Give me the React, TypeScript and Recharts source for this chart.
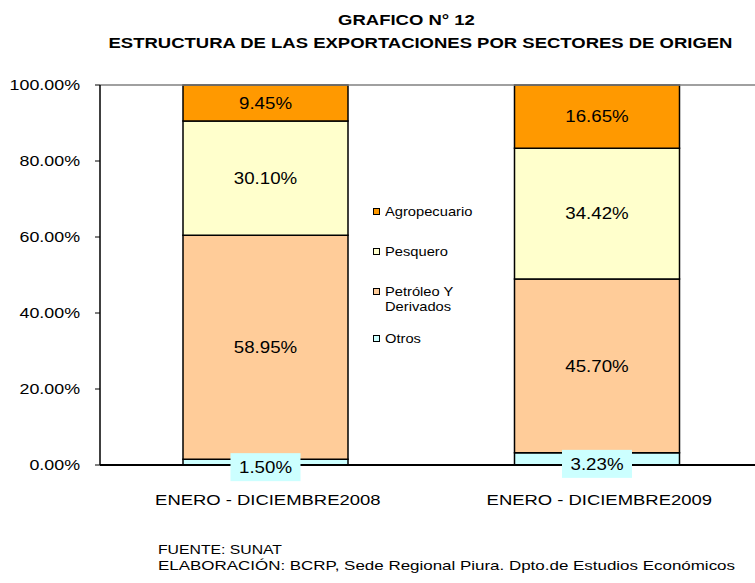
import React from "react";
import {
  BarChart,
  Bar,
  XAxis,
  YAxis,
  Legend,
  LabelList,
  ReferenceLine,
} from "recharts";

const periods = ["ENERO - DICIEMBRE2008", "ENERO - DICIEMBRE2009"];
const otros = [1.5, 3.23];
const petroleo = [58.95, 45.7];
const pesquero = [30.1, 34.42];
const agropecuario = [9.45, 16.65];
const yTicks = [0, 20, 40, 60, 80, 100];

const series = [
  { key: "otros", name: "Otros", color: "#CCFFFF", dy: 5 },
  { key: "petroleo", name: "Petróleo Y Derivados", color: "#FFCC99", dy: 0 },
  { key: "pesquero", name: "Pesquero", color: "#FFFFCC", dy: 0 },
  { key: "agro", name: "Agropecuario", color: "#FF9900", dy: 0 },
];

const data = periods.map((p, i) => ({
  period: p,
  otros: otros[i],
  petroleo: petroleo[i],
  pesquero: pesquero[i],
  agro: agropecuario[i],
}));

const FONT = "'Liberation Sans', Arial, sans-serif";

// the source picture is stretched sideways, so text gets a horizontal scale
function YTick(props: any) {
  const { x, y, payload } = props;
  return (
    <text
      transform={`translate(${x},${y}) scale(1.19,1)`}
      textAnchor="end"
      dominantBaseline="central"
      fontSize={15}
      fontFamily={FONT}
      fill="#000"
    >
      {Number(payload.value).toFixed(2) + "%"}
    </text>
  );
}

function XTick(props: any) {
  const { x, y, payload } = props;
  return (
    <text
      transform={`translate(${x + 2},${y + 8}) scale(1.23,1)`}
      textAnchor="middle"
      dominantBaseline="central"
      fontSize={15}
      fontFamily={FONT}
      fill="#000"
    >
      {payload.value}
    </text>
  );
}

function makeLabel(color: string, dy: number) {
  return (props: any) => {
    const { x, y, width, height, value } = props;
    const cx = x + width / 2;
    const cy = y + height / 2 + dy;
    return (
      <g>
        <rect x={cx - 35} y={cy - 14} width={70} height={28} fill={color} />
        <text
          transform={`translate(${cx},${cy}) scale(1.1,1)`}
          textAnchor="middle"
          dominantBaseline="central"
          fontSize={17}
          fontFamily={FONT}
          fill="#000"
        >
          {Number(value).toFixed(2) + "%"}
        </text>
      </g>
    );
  };
}

const legendItems = [
  { name: ["Agropecuario"], color: "#FF9900", top: 0 },
  { name: ["Pesquero"], color: "#FFFFCC", top: 40 },
  { name: ["Petróleo Y", "Derivados"], color: "#FFCC99", top: 80 },
  { name: ["Otros"], color: "#CCFFFF", top: 127 },
];

function LegendBox() {
  return (
    <div style={{ position: "relative", fontFamily: FONT, fontSize: 13 }}>
      {legendItems.map((it) => (
        <div
          key={it.name[0]}
          style={{ position: "absolute", top: it.top, left: 0, display: "flex" }}
        >
          <div
            style={{
              width: 5,
              height: 5,
              marginTop: 4,
              background: it.color,
              border: "1.5px solid #000",
            }}
          />
          <div
            style={{
              marginLeft: 5,
              lineHeight: "15px",
              whiteSpace: "nowrap",
              transform: "scaleX(1.13)",
              transformOrigin: "left",
            }}
          >
            {it.name.map((n) => (
              <div key={n}>{n}</div>
            ))}
          </div>
        </div>
      ))}
    </div>
  );
}

const titleLine = {
  position: "absolute" as const,
  width: 755,
  textAlign: "center" as const,
  fontWeight: "bold" as const,
  fontSize: 14,
  lineHeight: "20px",
  transform: "scaleX(1.32)",
  whiteSpace: "nowrap" as const,
};

export default function App() {
  return (
    <div
      style={{
        position: "absolute",
        left: 0,
        top: 0,
        width: 755,
        height: 583,
        overflow: "hidden",
        background: "#fff",
        fontFamily: FONT,
      }}
    >
      <div style={{ ...titleLine, top: 10, left: 406 - 377 }}>GRAFICO N° 12</div>
      <div style={{ ...titleLine, top: 33, left: 420 - 377 }}>
        ESTRUCTURA DE LAS EXPORTACIONES POR SECTORES DE ORIGEN
      </div>
      <BarChart
        width={765}
        height={583}
        data={data}
        margin={{ top: 85, right: 2, left: 0, bottom: 58 }}
        barSize={165}
        style={{ position: "absolute", left: 0, top: 0 }}
      >
        <XAxis
          dataKey="period"
          height={60}
          tickLine={false}
          tickSize={0}
          tickMargin={27}
          axisLine={{ stroke: "#000", strokeWidth: 2 }}
          tick={<XTick />}
        />
        <YAxis
          width={100}
          domain={[0, 100]}
          ticks={yTicks}
          interval={0}
          tickSize={5}
          tickMargin={15}
          axisLine={{ stroke: "#000", strokeWidth: 1.5 }}
          tickLine={{ stroke: "#000" }}
          tick={<YTick />}
        />
        <ReferenceLine y={100} stroke="#808080" strokeWidth={1.5} />
        {series.map((s) => (
          <Bar
            key={s.key}
            dataKey={s.key}
            name={s.name}
            stackId="a"
            fill={s.color}
            stroke="#000"
            strokeWidth={1.5}
            isAnimationActive={false}
          >
            <LabelList dataKey={s.key} content={makeLabel(s.color, s.dy)} />
          </Bar>
        ))}
        <Legend
          content={<LegendBox />}
          wrapperStyle={{ position: "absolute", left: 373, top: 204, width: 100 }}
        />
      </BarChart>
      <svg
        width={755}
        height={50}
        style={{ position: "absolute", left: 0, top: 533 }}
      >
        <text
          x={158}
          y={16}
          dominantBaseline="central"
          fontSize={13}
          fontFamily={FONT}
          textLength={124}
          lengthAdjust="spacingAndGlyphs"
        >
          FUENTE: SUNAT
        </text>
        <text
          x={158}
          y={32}
          dominantBaseline="central"
          fontSize={13}
          fontFamily={FONT}
          textLength={577}
          lengthAdjust="spacingAndGlyphs"
        >
          ELABORACIÓN: BCRP, Sede Regional Piura. Dpto.de Estudios Económicos
        </text>
      </svg>
    </div>
  );
}
